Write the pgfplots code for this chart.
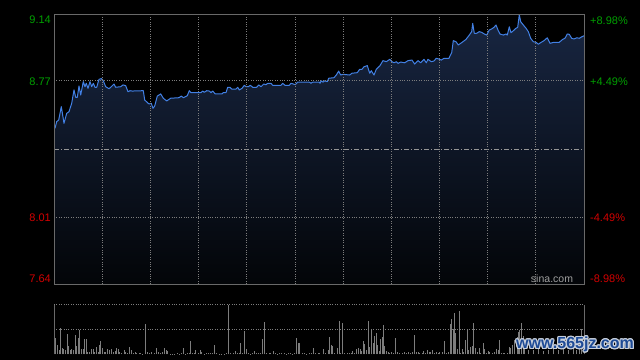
\documentclass[border=0pt]{standalone}
\usepackage{pgfplots}
\pgfplotsset{compat=1.18}
\usepackage{pgfplotstable}
\usepackage{fontspec}
\setmainfont{Liberation Sans}
\usepackage{contour}
\contourlength{1.1bp}
\definecolor{upg}{RGB}{0,160,0}
\definecolor{dnr}{RGB}{210,0,0}
\definecolor{pline}{RGB}{66,128,228}
\definecolor{ftop}{RGB}{24,38,66}
\definecolor{fbot}{RGB}{3,5,8}
\definecolor{framec}{RGB}{105,105,105}
\definecolor{gridc}{RGB}{125,125,125}
\definecolor{volc}{RGB}{125,125,125}
\definecolor{wmblue}{RGB}{30,75,150}
\definecolor{wmedge}{RGB}{200,208,220}

\pgfplotstableread{
x p
1.0 8.505
2.7 8.542
4.7 8.551
7.3 8.625
10.0 8.533
12.7 8.588
15.0 8.597
17.7 8.644
20.0 8.718
21.7 8.677
23.3 8.677
25.0 8.740
26.7 8.690
29.3 8.764
31.0 8.736
32.3 8.755
34.0 8.727
36.0 8.764
37.7 8.736
39.3 8.755
41.0 8.733
42.7 8.733
45.0 8.777
47.3 8.781
49.3 8.769
51.7 8.736
55.0 8.725
57.3 8.736
60.0 8.751
61.7 8.733
66.7 8.736
69.0 8.746
71.7 8.742
74.0 8.708
76.0 8.714
78.3 8.712
89.3 8.714
90.7 8.662
95.0 8.640
97.3 8.644
99.0 8.616
100.7 8.629
103.3 8.684
106.7 8.696
109.3 8.672
112.7 8.657
116.7 8.672
125.0 8.675
127.3 8.684
129.3 8.675
133.3 8.686
135.3 8.714
137.0 8.703
147.0 8.703
148.7 8.712
150.3 8.705
152.7 8.714
155.3 8.712
157.0 8.703
158.7 8.712
161.3 8.696
168.0 8.696
169.3 8.703
172.0 8.703
173.7 8.733
176.0 8.733
177.7 8.723
182.0 8.723
183.7 8.733
185.3 8.718
188.0 8.727
190.3 8.744
192.0 8.736
194.3 8.736
196.3 8.744
198.7 8.733
202.7 8.733
204.7 8.746
207.0 8.736
209.7 8.751
212.0 8.747
213.7 8.755
217.0 8.755
218.7 8.744
227.0 8.744
228.7 8.755
231.0 8.744
235.3 8.744
237.0 8.755
239.3 8.751
241.3 8.747
243.7 8.762
255.3 8.762
257.0 8.755
258.7 8.762
265.3 8.762
266.0 8.755
267.3 8.769
269.0 8.761
270.7 8.769
273.3 8.764
274.7 8.783
280.0 8.786
282.3 8.801
284.7 8.823
286.7 8.801
289.0 8.805
295.7 8.801
298.0 8.811
303.3 8.814
305.7 8.833
308.0 8.833
310.0 8.847
313.3 8.853
315.7 8.811
317.3 8.825
320.0 8.801
322.3 8.833
325.7 8.851
329.0 8.881
332.3 8.875
335.7 8.888
338.0 8.875
340.0 8.869
342.3 8.875
344.0 8.866
346.7 8.873
350.7 8.869
354.0 8.881
358.0 8.884
360.7 8.862
364.0 8.881
366.7 8.869
370.0 8.888
372.3 8.869
374.0 8.888
377.3 8.875
380.0 8.879
382.3 8.894
384.7 8.890
387.3 8.884
390.0 8.894
395.0 8.894
396.0 8.907
397.7 8.925
399.3 8.992
402.0 8.986
404.3 8.968
407.7 8.981
412.0 8.999
415.3 9.023
417.7 9.042
418.7 9.088
420.3 9.033
422.7 9.033
425.3 9.042
427.7 9.038
430.3 9.029
432.7 9.023
435.3 9.051
437.7 9.057
440.0 9.066
442.0 9.079
444.3 9.047
446.0 9.029
449.3 9.023
452.0 9.029
453.3 9.023
455.3 9.069
457.0 9.036
459.3 9.047
462.0 9.061
463.7 9.066
465.3 9.136
466.7 9.097
469.3 9.079
472.0 9.061
474.3 9.042
476.7 9.005
479.3 8.986
482.0 8.983
484.3 8.972
486.7 8.981
490.0 8.992
493.3 9.008
496.0 8.977
500.0 8.983
505.3 8.983
508.7 8.999
511.0 9.005
513.3 9.029
515.3 9.027
517.7 9.005
520.0 9.001
522.7 9.008
525.3 9.005
528.0 9.014
530.0 9.019
}\pricetab

\pgfplotstableread{
x v
1.0 16.7
3.0 9.3
5.0 4.3
6.3 26.0
8.0 6.0
9.3 5.0
11.0 4.3
13.0 20.3
14.3 8.3
16.0 4.3
17.3 5.7
19.0 4.3
21.0 19.3
22.3 8.3
24.0 16.7
25.7 24.3
27.3 5.0
29.0 5.0
30.3 15.3
32.3 15.3
33.7 2.7
35.7 2.7
37.3 5.3
39.0 5.3
40.7 2.7
42.0 7.7
44.0 2.7
45.7 9.3
46.7 13.3
48.3 6.0
50.0 2.7
51.7 2.0
53.3 5.0
55.0 4.3
57.3 5.0
59.3 2.7
61.0 3.7
62.3 6.0
64.0 5.0
65.7 2.7
67.7 1.0
70.0 4.3
71.7 2.7
73.3 1.7
75.3 7.0
77.7 4.3
79.3 1.7
81.0 2.7
82.7 1.0
85.0 1.7
86.7 1.0
88.3 0.3
91.3 30.3
93.3 2.0
95.7 1.7
97.7 2.0
100.0 1.0
102.3 6.0
104.3 2.0
106.7 1.0
108.3 2.0
110.3 6.0
112.0 4.3
113.3 3.7
116.7 0.3
118.7 0.3
120.7 0.3
123.3 1.0
125.7 0.3
127.3 1.0
129.3 6.0
131.7 0.3
133.3 1.0
135.0 1.7
136.3 13.3
138.3 1.7
140.0 1.0
141.7 4.3
144.0 1.7
146.0 4.3
147.7 2.7
150.0 0.3
152.0 1.7
154.0 1.0
156.0 1.7
158.3 1.0
160.3 9.3
162.3 1.7
165.0 0.3
167.3 0.3
170.0 0.3
172.3 1.7
174.3 49.3
176.7 1.7
179.0 1.0
181.3 3.7
183.3 1.0
185.0 1.0
186.7 11.7
188.3 1.0
190.3 23.3
192.3 5.3
194.3 1.0
196.7 0.3
198.7 1.0
200.3 3.3
202.3 1.7
204.3 1.0
206.7 1.7
208.3 15.0
210.3 32.3
212.3 1.7
215.0 1.0
216.7 1.7
219.3 3.7
221.3 1.0
223.3 0.3
225.3 1.0
227.7 1.7
230.0 1.0
232.3 0.3
234.3 1.0
236.0 1.7
238.3 0.3
240.0 1.0
242.3 16.7
244.0 11.7
245.7 11.7
248.3 1.7
250.7 1.0
252.7 0.3
255.0 1.0
257.3 1.7
259.3 6.7
261.7 1.0
264.0 1.0
265.7 1.7
269.0 5.3
271.3 1.0
274.0 4.3
275.7 17.7
277.3 9.3
278.3 8.3
280.7 1.7
283.0 6.0
285.3 33.3
286.7 1.0
288.3 31.7
290.7 1.0
293.0 1.0
295.0 1.0
297.3 1.0
298.7 3.3
300.7 1.0
302.3 5.0
304.3 6.7
306.3 5.0
307.7 3.7
309.3 13.3
310.7 10.0
312.3 4.3
314.3 33.3
315.7 7.7
317.3 25.0
319.0 11.0
320.7 18.3
322.3 21.0
323.3 9.3
325.0 3.3
326.3 15.3
328.0 17.0
329.0 29.3
330.7 8.7
332.3 3.7
334.0 2.7
335.7 1.7
337.3 2.7
339.0 1.7
341.3 16.0
343.3 2.7
345.7 1.0
348.0 1.7
350.0 2.7
352.3 1.0
354.0 2.7
356.0 1.0
358.0 2.7
360.3 19.3
362.3 2.0
364.0 2.7
365.7 1.7
368.0 1.7
369.3 3.7
371.3 1.0
373.3 4.3
375.0 2.0
376.7 2.7
378.7 4.3
380.7 1.7
382.3 2.7
384.0 1.7
385.7 2.7
388.0 2.0
390.3 13.3
392.3 1.7
394.7 2.7
396.7 30.3
397.7 35.0
399.0 25.0
400.3 41.0
401.7 21.0
403.3 5.0
405.0 43.3
406.7 1.7
408.3 5.0
409.7 2.7
411.3 14.3
413.0 24.3
414.7 4.3
416.3 7.7
418.0 8.3
419.7 31.7
421.3 6.0
423.0 2.7
425.0 6.0
426.7 1.7
429.0 11.0
430.7 5.0
432.3 1.7
434.0 3.3
435.7 2.7
438.0 1.7
440.0 2.7
442.3 5.0
444.0 4.3
445.7 14.3
447.3 1.7
449.0 1.7
450.7 1.0
453.0 1.0
455.0 7.7
456.7 6.0
458.3 9.3
460.7 14.3
463.0 17.7
464.0 22.7
465.3 24.3
467.3 31.0
469.0 18.3
470.7 14.3
474.0 4.3
479.0 4.3
484.0 5.0
489.0 3.7
494.0 4.3
499.0 6.0
504.0 4.3
509.0 5.0
514.0 4.3
519.0 6.0
522.3 4.3
525.7 15.0
527.3 25.0
}\voltab

\begin{document}
\begin{tikzpicture}
\fill[black] (0,0) rectangle (640bp,-360bp);

\begin{axis}[
  at={(54bp,-14bp)}, anchor=north west,
  width=530bp, height=270bp, scale only axis,
  xmin=0, xmax=530, ymin=7.64, ymax=9.14,
  axis on top,
  axis line style={draw=framec, line width=0.8bp},
  xtick={48.18,96.36,144.55,192.73,240.91,289.09,337.27,385.45,433.64,481.82},
  ytick={8.01,8.77},
  xticklabels={}, yticklabels={},
  major tick length=0pt,
  grid=major,
  grid style={draw=gridc, line width=0.8bp, dash pattern=on 0.8bp off 1.6bp},
]
\addplot[draw=none, top color=ftop, bottom color=fbot] table[x=x,y=p]{\pricetab} \closedcycle;
\addplot[draw={rgb,255:red,150;green,150;blue,150}, line width=0.8bp,
  dash pattern=on 5bp off 2bp on 1bp off 2bp] coordinates {(0,8.39) (530,8.39)};
\addplot[pline, line width=1bp, line join=round] table[x=x,y=p]{\pricetab};
\end{axis}

\begin{axis}[
  at={(54bp,-304.8bp)}, anchor=north west,
  width=530bp, height=49.5bp, scale only axis,
  xmin=0, xmax=530, ymin=0, ymax=49.5,
  separate axis lines,
  x axis line style={draw=none},
  y axis line style={draw=framec, line width=0.8bp},
  xtick=\empty, ytick={24.75,49.5}, yticklabels={},
  major tick length=0pt,
  ymajorgrids,
  grid style={draw=gridc, line width=0.8bp, dash pattern=on 0.8bp off 1.6bp},
]
\addplot[ycomb, volc, line width=1bp] table[x=x,y=v]{\voltab};
\end{axis}

\begin{scope}[every node/.style={inner sep=0pt, font=\fontsize{11bp}{13bp}\selectfont}]
\node[anchor=east, text=upg] at (51bp,-20bp) {9.14};
\node[anchor=east, text=upg] at (51bp,-81.7bp) {8.77};
\node[anchor=east, text=dnr] at (51bp,-217.3bp) {8.01};
\node[anchor=east, text=dnr] at (51bp,-278.3bp) {7.64};
\node[anchor=west, text=upg] at (590bp,-20.5bp) {+8.98\%};
\node[anchor=west, text=upg] at (590bp,-82bp) {+4.49\%};
\node[anchor=west, text=dnr] at (590bp,-217.3bp) {-4.49\%};
\node[anchor=west, text=dnr] at (590bp,-278.3bp) {-8.98\%};
\node[text={rgb,255:red,160;green,160;blue,160}, font=\fontsize{10.5bp}{12bp}\selectfont] at (552bp,-279bp) {sina.com};
\end{scope}

\node[inner sep=0pt, font=\fontsize{16bp}{18bp}\selectfont\bfseries] at (575bp,-345bp)
  {\contour{wmedge}{\textcolor{wmblue}{www.565jz.com}}};

\pgfresetboundingbox
\useasboundingbox (0,0) rectangle (640bp,-360bp);
\end{tikzpicture}
\end{document}
